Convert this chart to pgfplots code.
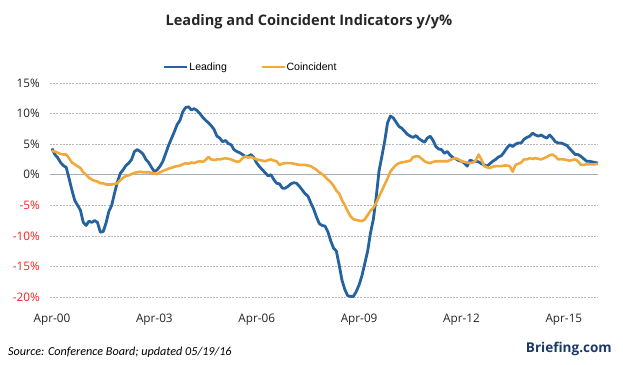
\documentclass[border=0pt]{standalone}
\usepackage{fontspec}
\setmainfont{Liberation Sans}
\newfontfamily\opensans{Open Sans}
\newfontfamily\carlito{Carlito}
\usepackage{pgfplots}
\usepackage{pgfplotstable}
\pgfplotsset{compat=1.18}
\definecolor{leadblue}{RGB}{38,99,158}
\definecolor{coinorange}{RGB}{242,169,59}
\definecolor{gridgray}{RGB}{185,185,185}
\definecolor{zerogray}{RGB}{165,174,184}
\definecolor{navy}{RGB}{27,58,104}
\definecolor{ticktext}{RGB}{35,35,35}
\definecolor{negred}{RGB}{255,30,30}
\pgfplotstableread{
m lead coin
0 4.3 3.9
1 3.3 3.8
2 2.8 3.6
3 2.0 3.4
4 1.5 3.3
5 1.2 3.3
6 -0.6 2.7
7 -2.5 2.0
8 -4.2 1.7
9 -5.0 1.4
10 -5.8 1.1
11 -7.8 0.4
12 -8.3 0.0
13 -7.6 -0.5
14 -7.8 -0.8
15 -7.5 -1.0
16 -7.8 -1.1
17 -9.4 -1.4
18 -9.3 -1.4
19 -7.9 -1.6
20 -6.0 -1.6
21 -5.0 -1.6
22 -3.0 -1.5
23 -1.2 -1.4
24 0.2 -0.9
25 0.8 -0.5
26 1.5 -0.2
27 1.9 -0.1
28 2.5 0.1
29 3.8 0.3
30 4.1 0.4
31 3.8 0.5
32 3.4 0.4
33 2.5 0.4
34 2.0 0.4
35 1.2 0.3
36 0.5 0.2
37 0.8 0.1
38 1.4 0.4
39 2.2 0.6
40 3.5 0.8
41 4.8 1.0
42 5.9 1.1
43 7.0 1.3
44 8.2 1.4
45 8.9 1.5
46 10.3 1.7
47 11.0 1.9
48 11.1 1.8
49 10.6 2.0
50 10.8 1.9
51 10.5 2.1
52 10.0 2.2
53 9.4 2.1
54 8.9 2.4
55 8.5 2.9
56 8.0 2.5
57 7.4 2.4
58 6.3 2.5
59 6.0 2.5
60 5.4 2.6
61 5.6 2.7
62 5.1 2.6
63 4.9 2.5
64 4.1 2.3
65 3.8 2.1
66 3.6 2.2
67 3.3 2.7
68 3.0 3.0
69 3.0 2.8
70 3.3 2.9
71 2.8 2.7
72 1.9 2.5
73 1.3 2.4
74 0.8 2.3
75 0.3 2.2
76 -0.2 2.4
77 0.0 2.5
78 -0.8 2.3
79 -1.4 2.2
80 -1.5 1.6
81 -2.2 1.8
82 -2.2 1.9
83 -1.9 1.9
84 -1.5 1.9
85 -1.3 1.8
86 -1.4 1.7
87 -1.9 1.6
88 -2.5 1.6
89 -3.1 1.6
90 -3.5 1.5
91 -4.6 1.4
92 -5.6 1.1
93 -6.9 0.8
94 -8.0 0.4
95 -8.3 0.1
96 -8.4 -0.3
97 -9.3 -0.8
98 -10.8 -1.2
99 -12.0 -1.8
100 -12.5 -2.6
101 -14.8 -3.1
102 -17.3 -4.2
103 -18.8 -5.0
104 -19.8 -6.0
105 -19.9 -6.8
106 -19.9 -7.3
107 -19.1 -7.4
108 -18.0 -7.5
109 -16.5 -7.6
110 -14.5 -7.3
111 -12.5 -6.6
112 -9.5 -5.9
113 -7.3 -5.4
114 -3.7 -4.6
115 0.6 -3.6
116 3.0 -2.6
117 5.5 -1.6
118 8.5 -0.6
119 9.6 0.5
120 9.3 1.1
121 8.6 1.6
122 7.9 1.9
123 7.6 2.0
124 7.1 2.1
125 6.6 2.2
126 6.3 2.3
127 6.1 2.9
128 6.4 3.0
129 5.9 3.0
130 5.6 2.6
131 5.3 2.2
132 6.0 2.0
133 6.3 1.9
134 5.6 2.1
135 4.6 2.2
136 4.2 2.2
137 4.1 2.2
138 3.5 2.2
139 3.8 2.2
140 3.2 2.4
141 2.8 2.6
142 2.6 2.7
143 2.3 2.5
144 2.2 2.2
145 1.9 2.1
146 1.4 2.0
147 2.4 1.9
148 2.2 2.0
149 2.2 2.3
150 2.1 3.3
151 1.8 2.5
152 1.6 1.4
153 1.4 1.2
154 1.8 1.1
155 2.2 1.3
156 2.5 1.4
157 2.9 1.4
158 3.1 1.4
159 3.7 1.5
160 4.4 1.5
161 4.9 1.4
162 4.6 0.5
163 5.0 1.6
164 5.2 1.8
165 5.2 2.0
166 5.8 2.5
167 6.1 2.5
168 6.3 2.7
169 6.8 2.6
170 6.5 2.7
171 6.3 2.6
172 6.5 2.5
173 6.2 2.7
174 6.0 2.9
175 6.5 3.2
176 6.0 3.3
177 5.4 3.0
178 5.2 2.5
179 5.2 2.5
180 5.0 2.5
181 4.8 2.4
182 4.3 2.3
183 3.8 2.4
184 3.3 2.5
185 3.3 2.2
186 3.0 1.6
187 2.6 1.6
188 2.2 1.7
189 2.2 1.7
190 2.1 1.7
191 2.0 1.7
192 1.9 1.8
}\datatable
\begin{document}
\begin{tikzpicture}[x=1bp,y=1bp]
\path[use as bounding box] (0bp,0bp) rectangle (623bp,365bp);
\begin{axis}[
  at={(50bp,68bp)}, anchor=south west,
  scale only axis, width=548bp, height=214bp,
  xmin=-0.7, xmax=192.0, ymin=-20, ymax=15,
  axis line style={draw=none},
  tick style={draw=none},
  clip=false,
  xtick={0,36,72,108,144,180},
  xticklabels={Apr-00,Apr-03,Apr-06,Apr-09,Apr-12,Apr-15},
  ytick={-20,-15,-10,-5,5,10,15},
  yticklabels={{\color{negred}-20\%},{\color{negred}-15\%},{\color{negred}-10\%},{\color{negred}-5\%},5\%,10\%,15\%},
  extra y ticks={0},
  extra y tick labels={0\%},
  extra y tick style={grid style={solid, draw=zerogray, line width=0.9bp}},
  ymajorgrids,
  grid style={draw=gridgray, dash pattern=on 2bp off 1.2bp, line width=0.7bp},
  every tick label/.append style={font=\opensans\fontsize{11.8}{12}\selectfont, text=ticktext, inner sep=0pt},
  yticklabel style={anchor=east, xshift=-10bp},
  xticklabel style={anchor=north, yshift=-17bp},
  legend columns=2,
  legend style={draw=none, fill=none, at={(0.365,1.075)}, anchor=center,
    font=\fontsize{10.6}{12}\selectfont, inner sep=0pt,
    /tikz/every even column/.append style={column sep=33bp},
    nodes={inner sep=0.5bp}},
  legend image code/.code={\draw[#1] (0bp,0bp) -- (23bp,0bp);},
]
\addplot[leadblue, line width=2.8bp, line join=round] table[x=m, y=lead] {\datatable};
\addlegendentry{Leading}
\addplot[coinorange, line width=2.6bp, line join=round] table[x=m, y=coin] {\datatable};
\addlegendentry{Coincident}
\end{axis}
\node[font=\opensans\bfseries\fontsize{14.6}{16}\selectfont, text=black!85] at (309bp,343bp) {Leading and Coincident Indicators y/y\%};
\node[anchor=west, font=\carlito\itshape\fontsize{12.2}{14}\selectfont, inner sep=0pt] at (8bp,13bp) {Source: Conference Board; updated 05/19/16};
\node[anchor=east, font=\opensans\bfseries\fontsize{13.6}{16}\selectfont, text=navy, inner sep=0pt] at (612bp,16bp) {Briefing.com};
\end{tikzpicture}
\end{document}
